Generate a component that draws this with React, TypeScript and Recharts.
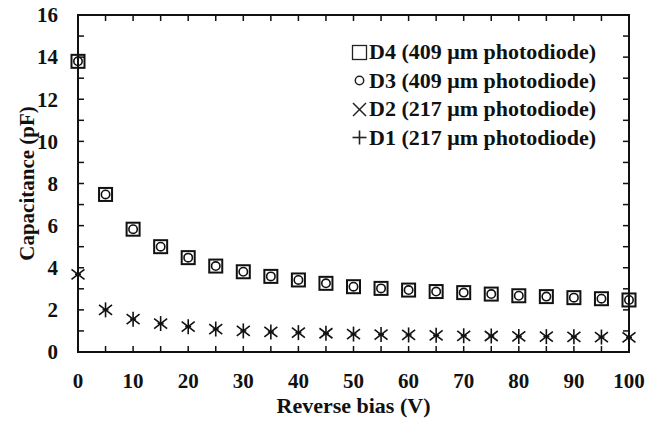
import React from "react"
import { ScatterChart, Scatter, XAxis, YAxis, ReferenceArea } from "recharts"

// ─── Data ──────────────────────────────────────────────────────────────────────

const biasV = [0, 5, 10, 15, 20, 25, 30, 35, 40, 45, 50, 55, 60, 65, 70, 75, 80, 85, 90, 95, 100]
const d4 = [13.8, 7.48, 5.83, 5.0, 4.48, 4.08, 3.81, 3.59, 3.42, 3.26, 3.1, 3.02, 2.94, 2.87, 2.82, 2.75, 2.67, 2.63, 2.58, 2.53, 2.47]
const d3 = [13.8, 7.48, 5.83, 5.0, 4.48, 4.08, 3.81, 3.59, 3.42, 3.26, 3.1, 3.02, 2.94, 2.87, 2.82, 2.75, 2.67, 2.63, 2.58, 2.53, 2.47]
const d2 = [3.69, 2.0, 1.56, 1.35, 1.2, 1.09, 1.0, 0.95, 0.92, 0.89, 0.85, 0.83, 0.81, 0.79, 0.77, 0.76, 0.74, 0.73, 0.72, 0.71, 0.69]
const d1 = [3.69, 2.0, 1.56, 1.35, 1.2, 1.09, 1.0, 0.95, 0.92, 0.89, 0.85, 0.83, 0.81, 0.79, 0.77, 0.76, 0.74, 0.73, 0.72, 0.71, 0.69]

const xTicks = [0, 5, 10, 15, 20, 25, 30, 35, 40, 45, 50, 55, 60, 65, 70, 75, 80, 85, 90, 95, 100]
const yTicks = [0, 1, 2, 3, 4, 5, 6, 7, 8, 9, 10, 11, 12, 13, 14, 15, 16]

const legendItems = [
  { key: "d4", label: "D4 (409 μm photodiode)" },
  { key: "d3", label: "D3 (409 μm photodiode)" },
  { key: "d2", label: "D2 (217 μm photodiode)" },
  { key: "d1", label: "D1 (217 μm photodiode)" },
]

const toPoints = (vals: number[]) => biasV.map((v, i) => ({ v, c: vals[i] }))

// ─── Layout / styles ───────────────────────────────────────────────────────────

const FONT = "'Liberation Serif', 'Times New Roman', serif"
const INK = "#111111"
const PLOT_TOP = 15
const PLOT_RIGHT = 629
const TICK_LEN = 6

// ─── Ticks (drawn inward, mirrored on top / right) ─────────────────────────────

function XTick({ x, y, payload }: any) {
  const v = payload?.value
  return (
    <g>
      <rect x={x - 0.75} y={y - TICK_LEN} width={1.5} height={TICK_LEN} fill={INK} />
      <rect x={x - 0.75} y={PLOT_TOP} width={1.5} height={TICK_LEN} fill={INK} />
      {v % 10 === 0 && (
        <text x={x} y={y + 36} textAnchor="middle" fill={INK} fontFamily={FONT} fontWeight="bold" fontSize={21}>
          {v}
        </text>
      )}
    </g>
  )
}

function YTick({ x, y, payload }: any) {
  const v = payload?.value
  return (
    <g>
      <rect x={x} y={y - 0.75} width={TICK_LEN} height={1.5} fill={INK} />
      <rect x={PLOT_RIGHT - TICK_LEN} y={y - 0.75} width={TICK_LEN} height={1.5} fill={INK} />
      {v % 2 === 0 && (
        <text x={x - 20} y={y} dy="0.35em" textAnchor="end" fill={INK} fontFamily={FONT} fontWeight="bold" fontSize={21}>
          {v}
        </text>
      )}
    </g>
  )
}

// ─── Marker shapes ─────────────────────────────────────────────────────────────

function SquareMark({ cx, cy }: { cx?: number; cy?: number }) {
  if (cx == null || cy == null) return null
  return <rect x={cx - 6.5} y={cy - 6.5} width={13} height={13} fill="none" stroke={INK} strokeWidth={2} />
}

function CircleMark({ cx, cy }: { cx?: number; cy?: number }) {
  if (cx == null || cy == null) return null
  return <circle cx={cx} cy={cy} r={4.2} fill="none" stroke={INK} strokeWidth={1.6} />
}

function CrossMark({ cx, cy }: { cx?: number; cy?: number }) {
  if (cx == null || cy == null) return null
  return (
    <g stroke={INK} strokeWidth={1.6}>
      <line x1={cx - 6.5} y1={cy - 5} x2={cx + 6.5} y2={cy + 5} />
      <line x1={cx - 6.5} y1={cy + 5} x2={cx + 6.5} y2={cy - 5} />
    </g>
  )
}

function PlusMark({ cx, cy }: { cx?: number; cy?: number }) {
  if (cx == null || cy == null) return null
  return (
    <g stroke={INK} strokeWidth={1.6}>
      <line x1={cx} y1={cy - 7.5} x2={cx} y2={cy + 7.5} />
      <line x1={cx - 3} y1={cy} x2={cx + 3} y2={cy} />
    </g>
  )
}

function LegendSymbol({ kind }: { kind: string }) {
  return (
    <svg width={17} height={17} style={{ display: "block", flexShrink: 0 }}>
      {kind === "d4" && <rect x={1.5} y={1.5} width={14} height={14} fill="none" stroke="#222" strokeWidth={1.3} />}
      {kind === "d3" && <circle cx={8.5} cy={8.5} r={4.2} fill="none" stroke="#222" strokeWidth={1.5} />}
      {kind === "d2" && (
        <g stroke="#222" strokeWidth={1.5}>
          <line x1={2} y1={2} x2={15} y2={15} />
          <line x1={2} y1={15} x2={15} y2={2} />
        </g>
      )}
      {kind === "d1" && (
        <g stroke="#222" strokeWidth={1.6}>
          <line x1={8.5} y1={1.5} x2={8.5} y2={15.5} />
          <line x1={1.5} y1={8.5} x2={15.5} y2={8.5} />
        </g>
      )}
    </svg>
  )
}

function ChartLegend() {
  return (
    <div style={{ position: "absolute", left: 351, top: 38, fontFamily: FONT, fontWeight: "bold", fontSize: 22, color: INK }}>
      {legendItems.map(item => (
        <div key={item.key} style={{ display: "flex", alignItems: "center", height: 28.5, whiteSpace: "nowrap" }}>
          <LegendSymbol kind={item.key} />
          <span style={{ marginLeft: 1 }}>{item.label}</span>
        </div>
      ))}
    </div>
  )
}

// ─── Axis titles ───────────────────────────────────────────────────────────────

function YTitle() {
  const x = 27
  const y = 183.5
  return (
    <text x={x} y={y} transform={`rotate(-90, ${x}, ${y})`} textAnchor="middle" dominantBaseline="central"
      fill={INK} fontFamily={FONT} fontWeight="bold" fontSize={21}>
      Capacitance (pF)
    </text>
  )
}

function XTitle() {
  return (
    <text x={353.5} y={413} textAnchor="middle" fill={INK} fontFamily={FONT} fontWeight="bold" fontSize={22}>
      Reverse bias (V)
    </text>
  )
}

// ─── Chart ─────────────────────────────────────────────────────────────────────

export default function App() {
  return (
    <div style={{ position: "absolute", left: 0, top: 0, width: 657, height: 425, background: "#fff" }}>
      <ScatterChart width={657} height={425} margin={{ top: 15, right: 28, left: 0, bottom: 0 }}>
        <XAxis
          type="number"
          dataKey="v"
          domain={[0, 100]}
          ticks={xTicks}
          interval={0}
          height={73}
          stroke={INK}
          strokeWidth={2}
          tickSize={0}
          tickMargin={0}
          tickLine={false}
          tick={<XTick />}
          label={<XTitle />}
        />
        <YAxis
          type="number"
          dataKey="c"
          domain={[0, 16]}
          ticks={yTicks}
          interval={0}
          width={78}
          stroke={INK}
          strokeWidth={2}
          tickSize={0}
          tickMargin={0}
          tickLine={false}
          tick={<YTick />}
          label={<YTitle />}
        />
        <ReferenceArea x1={0} x2={100} y1={0} y2={16} fill="none" stroke={INK} strokeWidth={2} ifOverflow="visible" />
        <Scatter name="D4" data={toPoints(d4)} shape={<SquareMark />} isAnimationActive={false} />
        <Scatter name="D3" data={toPoints(d3)} shape={<CircleMark />} isAnimationActive={false} />
        <Scatter name="D2" data={toPoints(d2)} shape={<CrossMark />} isAnimationActive={false} />
        <Scatter name="D1" data={toPoints(d1)} shape={<PlusMark />} isAnimationActive={false} />
      </ScatterChart>
      <ChartLegend />
    </div>
  )
}
